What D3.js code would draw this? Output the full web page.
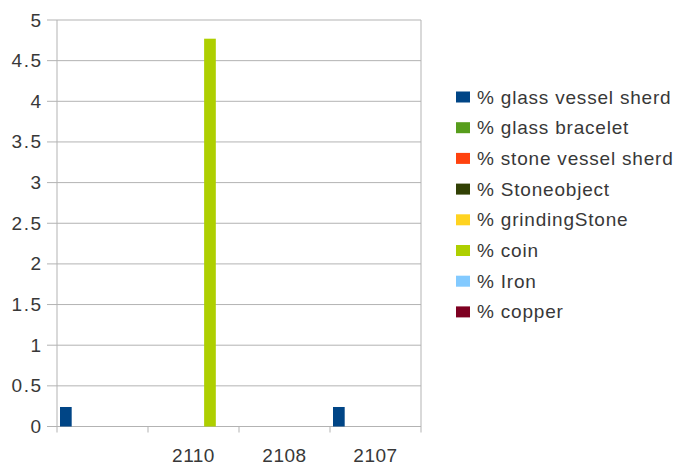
<!DOCTYPE html>
<html><head><meta charset="utf-8">
<script src="https://cdn.jsdelivr.net/npm/d3@7"></script>
<style>body{margin:0;background:#fff;}text{font-family:"Liberation Sans",Arial,sans-serif;fill:#383838;}</style>
</head><body>
<svg id="c" width="678" height="470"></svg>
<script>
const categories = ["", "2110", "2108", "2107"];
const seriesNames = ["% glass vessel sherd","% glass bracelet","% stone vessel sherd","% Stoneobject","% grindingStone","% coin","% Iron","% copper"];
const seriesColors = ["#004586","#579d1c","#ff420e","#314004","#ffd320","#aecf00","#83caff","#7e0021"];
const glassVesselSherd = [0.24, 0, 0, 0.24];
const glassBracelet = [0, 0, 0, 0];
const stoneVesselSherd = [0, 0, 0, 0];
const stoneobject = [0, 0, 0, 0];
const grindingStone = [0, 0, 0, 0];
const coin = [0, 4.77, 0, 0];
const iron = [0, 0, 0, 0];
const copper = [0, 0, 0, 0];
const yTicks = [0,0.5,1,1.5,2,2.5,3,3.5,4,4.5,5];
const allSeries = [glassVesselSherd, glassBracelet, stoneVesselSherd, stoneobject, grindingStone, coin, iron, copper];

const svg = d3.select("#c");
const L = 57, R = 421, T = 20, B = 426.5;
const x = d3.scaleBand().domain(categories.map((c,i)=>i)).range([L,R]).padding(0);
const x1 = d3.scaleBand().domain(d3.range(seriesNames.length)).range([3, 88]).padding(0);
const y = d3.scaleLinear().domain([0,5]).range([B,T]);

// gridlines
svg.append("g").selectAll("line").data(yTicks).join("line")
  .attr("x1", L-10).attr("x2", R).attr("y1", d=>y(d)).attr("y2", d=>y(d))
  .attr("stroke", "#b3b3b3").attr("stroke-width", 1);
// y labels
svg.append("g").selectAll("text").data(yTicks).join("text")
  .attr("x", 42.5).attr("y", d=>y(d)).attr("text-anchor","end").attr("dominant-baseline","central")
  .style("font-size","19px").style("letter-spacing","1.5px").text(d=>String(d));
// y axis line
svg.append("line").attr("x1",L).attr("x2",L).attr("y1",T).attr("y2",B+6).attr("stroke","#b3b3b3");
// right edge
svg.append("line").attr("x1",R).attr("x2",R).attr("y1",T).attr("y2",B+6).attr("stroke","#b3b3b3");
// category ticks
svg.append("g").selectAll("line").data(categories.map((c,i)=>i).slice(1)).join("line")
  .attr("x1", d=>x(d)).attr("x2", d=>x(d)).attr("y1", B).attr("y2", B+6).attr("stroke","#b3b3b3");
// x labels
svg.append("g").selectAll("text").data(categories).join("text")
  .attr("x",(d,i)=>x(i)+x.bandwidth()/2).attr("y",461.5).attr("text-anchor","middle")
  .style("font-size","19px").style("letter-spacing","0.5px").text(d=>d);

// bars
const bw = x1.bandwidth()*1.1;
allSeries.forEach((vals, s) => {
  svg.append("g").selectAll("rect").data(vals.map((v,i)=>({v,i}))).join("rect")
    .filter(d=>d.v>0)
    .attr("x", d=>x(d.i)+x1(s)).attr("width", bw)
    .attr("y", d=>y(d.v)).attr("height", d=>y(0)-y(d.v))
    .attr("fill", seriesColors[s]);
});

// legend
const lg = svg.append("g");
seriesNames.forEach((n,i)=>{
  const cy = 97 + i*30.7;
  lg.append("rect").attr("x",456).attr("y",cy-5.5).attr("width",14).attr("height",11).attr("fill",seriesColors[i]);
  lg.append("text").attr("x",477).attr("y",cy).attr("dominant-baseline","central")
    .style("font-size","19px").style("letter-spacing","0.8px").text(n);
});
</script>
</body></html>
